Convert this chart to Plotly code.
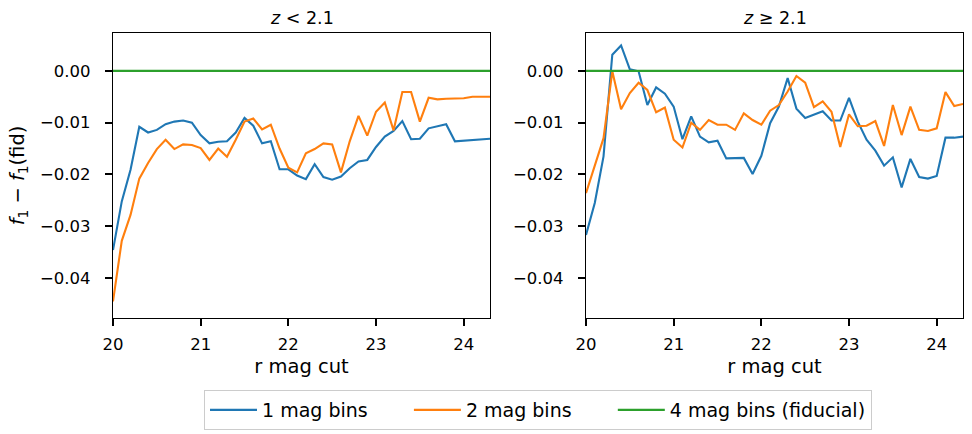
import plotly.graph_objects as go
from plotly.subplots import make_subplots

r_cut = [round(20.0 + 0.1 * i, 1) for i in range(44)]

low_1mag = [-0.0346, -0.0252, -0.0191, -0.0108, -0.0119, -0.0114, -0.0103, -0.0098, -0.0096, -0.0100,
            -0.0124, -0.0140, -0.0137, -0.0136, -0.0119, -0.0091, -0.0106, -0.0140, -0.0136, -0.0190,
            -0.0190, -0.0202, -0.0209, -0.0180, -0.0205, -0.0210, -0.0204, -0.0188, -0.0175, -0.0172,
            -0.0147, -0.0127, -0.0116, -0.0097, -0.0132, -0.0131, -0.0111, -0.0107, -0.0103, -0.0136,
            -0.0135, -0.0133, -0.0132, -0.0131]
low_2mag = [-0.0445, -0.0328, -0.0278, -0.0208, -0.0178, -0.0151, -0.0133, -0.0151, -0.0142, -0.0143,
            -0.0149, -0.0172, -0.0150, -0.0166, -0.0133, -0.0098, -0.0092, -0.0113, -0.0104, -0.0150,
            -0.0187, -0.0196, -0.0159, -0.0151, -0.0140, -0.0142, -0.0196, -0.0136, -0.0087, -0.0125,
            -0.0079, -0.0061, -0.0115, -0.0041, -0.0041, -0.0098, -0.0052, -0.0055, -0.0054, -0.0053,
            -0.0053, -0.0050, -0.0050, -0.0050]
high_1mag = [-0.0317, -0.0255, -0.0165, 0.0031, 0.0049, 0.0003, -0.0001, -0.0066, -0.0032, -0.0044,
             -0.0069, -0.0132, -0.0088, -0.0127, -0.0138, -0.0135, -0.0169, -0.0168, -0.0168, -0.0199,
             -0.0164, -0.0101, -0.0069, -0.0014, -0.0073, -0.0091, -0.0084, -0.0078, -0.0096, -0.0096,
             -0.0052, -0.0098, -0.0133, -0.0154, -0.0183, -0.0167, -0.0225, -0.0170, -0.0205, -0.0208,
             -0.0203, -0.0129, -0.0129, -0.0127]
high_2mag = [-0.0236, -0.0181, -0.0130, -0.0001, -0.0074, -0.0043, -0.0023, -0.0037, -0.0080, -0.0071,
             -0.0133, -0.0148, -0.0100, -0.0114, -0.0095, -0.0104, -0.0104, -0.0114, -0.0082, -0.0095,
             -0.0104, -0.0077, -0.0066, -0.0040, -0.0010, -0.0023, -0.0070, -0.0059, -0.0079, -0.0147,
             -0.0084, -0.0107, -0.0106, -0.0097, -0.0145, -0.0066, -0.0124, -0.0069, -0.0114, -0.0116,
             -0.0111, -0.0041, -0.0068, -0.0064]
fid_4mag = [0.0] * len(r_cut)

series_names = ["1 mag bins", "2 mag bins", "4 mag bins (fiducial)"]
colors = ["#1f77b4", "#ff7f0e", "#2ca02c"]
panel_titles = ["<i>z</i> < 2.1", "<i>z</i> ≥ 2.1"]
x_ticks = [20, 21, 22, 23, 24]
y_ticks = [0.0, -0.01, -0.02, -0.03, -0.04]
y_ticktext = ["0.00", "−0.01", "−0.02", "−0.03", "−0.04"]

FONT = "DejaVu Sans, sans-serif"
PAD = "\u00a0" * 6

fig = make_subplots(rows=1, cols=2)

panels = [(low_1mag, low_2mag), (high_1mag, high_2mag)]
for ci, (s1, s2) in enumerate(panels, start=1):
    for si, ys in enumerate([s1, s2, fid_4mag]):
        label = series_names[si] + (PAD if si < 2 else "")
        fig.add_trace(go.Scatter(
            x=r_cut, y=ys, mode="lines", name=label,
            line=dict(color=colors[si], width=2.1),
            showlegend=(ci == 1),
        ), row=1, col=ci)

x_domains = [[113 / 972, 490 / 972], [586 / 972, 963 / 972]]
y_domain = [1 - 318 / 434, 1 - 33 / 434]

for i in range(2):
    sfx = "" if i == 0 else str(i + 1)
    fig.layout["xaxis" + sfx].update(
        domain=x_domains[i], range=[20, 24.3], tickvals=x_ticks,
        ticks="outside", ticklen=7, tickwidth=2, tickcolor="black",
        showline=True, linecolor="black", linewidth=1.2, mirror=True,
        showgrid=False, zeroline=False, automargin=False,
        ticklabelstandoff=4,
        tickfont=dict(family=FONT, size=16.5, color="black"),
        title=dict(text="r mag cut", font=dict(family=FONT, size=19.5, color="black"), standoff=6),
    )
    fig.layout["yaxis" + sfx].update(
        domain=y_domain, range=[-0.0477, 0.0073], tickvals=y_ticks, ticktext=y_ticktext,
        ticks="outside", ticklen=7, tickwidth=2, tickcolor="black",
        showline=True, linecolor="black", linewidth=1.2, mirror=True,
        showgrid=False, zeroline=False, automargin=False,
        ticklabelstandoff=11,
        tickfont=dict(family=FONT, size=16.5, color="black"),
    )

fig.layout.yaxis.title = dict(
    text="<i>f</i><sub>1</sub> − <i>f</i><sub>1</sub>(fid)",
    font=dict(family=FONT, size=19.5, color="black"), standoff=10)

annotations = []
for i in range(2):
    xc = (x_domains[i][0] + x_domains[i][1]) / 2
    annotations.append(dict(
        text=panel_titles[i], x=xc, y=y_domain[1], xref="paper", yref="paper",
        xanchor="center", yanchor="bottom", yshift=3, showarrow=False,
        font=dict(family=FONT, size=17.5, color="black")))
fig.update_layout(annotations=annotations)

fig.update_layout(
    width=972, height=434,
    margin=dict(l=0, r=0, t=0, b=0),
    paper_bgcolor="white", plot_bgcolor="white",
    font=dict(family=FONT, color="black"),
    legend=dict(
        orientation="h", x=538 / 972, xanchor="center", y=1 - 390 / 434, yanchor="top",
        bordercolor="#cccccc", borderwidth=1, bgcolor="white",
        font=dict(family=FONT, size=19, color="black"),
        itemwidth=47,
    ),
)

fig.write_html("out.html",
               config={"displayModeBar": False},
               post_script="document.body.style.margin='0';document.body.style.overflow='hidden';")
